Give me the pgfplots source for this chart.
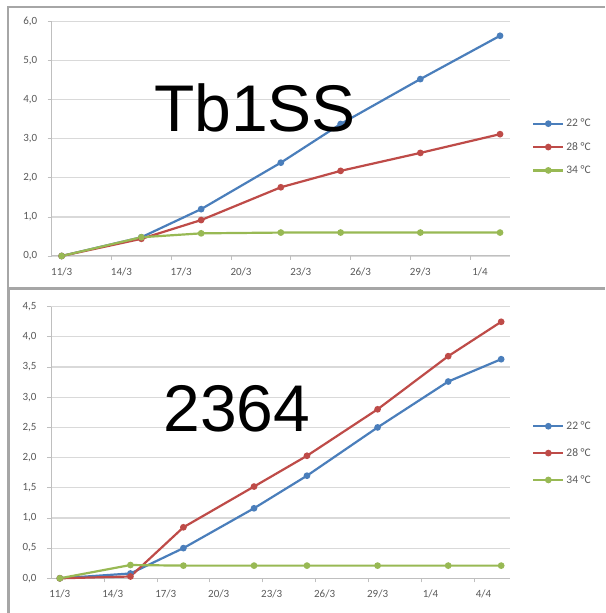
\documentclass[border=0pt]{standalone}
\usepackage{fontspec}
\setmainfont{Carlito}
\newfontfamily\arialfont{Liberation Sans}
\usepackage{pgfplots}
\pgfplotsset{compat=1.18}

\definecolor{xblue}{HTML}{4A7EBB}
\definecolor{xred}{HTML}{BE4B48}
\definecolor{xgreen}{HTML}{98B954}
\definecolor{ticktxt}{HTML}{595959}
\definecolor{gridc}{HTML}{D9D9D9}
\definecolor{axc}{HTML}{BFBFBF}
\definecolor{framec}{HTML}{A6A6A6}

\pgfplotsset{
  excel/.style={
    scale only axis,
    axis x line*=bottom, axis y line*=left,
    axis line style={axc, line width=1pt, -},
    ymajorgrids, grid style={gridc, line width=1.2pt},
    tick align=outside, major tick length=4pt,
    tick style={axc, line width=0.8pt},
    ticklabel style={font=\fontsize{11}{13}\selectfont, text=ticktxt},
    /pgf/number format/assume math mode=true,
    yticklabel style={/pgf/number format/fixed, /pgf/number format/fixed zerofill,
      /pgf/number format/precision=1, /pgf/number format/use comma, xshift=-7pt},
    xticklabels={},
    extra x tick style={major tick length=0pt, tick style={draw=none},
      xticklabel style={yshift=-8pt}},
    legend style={draw=none, fill=none, inner sep=0pt, anchor=west,
      font=\fontsize{11.5}{13}\selectfont, text=ticktxt},
    legend cell align=left,
    legend image code/.code={\draw[mark repeat=2,mark phase=2]
      plot coordinates {(0pt,0pt)(15pt,0pt)(30pt,0pt)};},
    every axis plot/.append style={line width=2.2pt, mark=*, mark size=2.2pt},
    clip=false,
  }
}

\begin{document}
\begin{tikzpicture}
\path[use as bounding box] (0pt,0pt) rectangle (605pt,613pt);

% frames of the two chart areas
\draw[framec, line width=1.8pt] (8pt,326pt) -- (8pt,606pt) -- (605pt,606pt);
\draw[framec, line width=3pt] (8pt,0pt) -- (8pt,324pt) -- (605pt,324pt);

% top chart
\begin{axis}[excel,
  at={(51.7pt,357pt)}, anchor=south west,
  width=458.3pt, height=234.3pt,
  xmin=-0.5, xmax=22.5, ymin=0, ymax=6,
  ytick={0,1,...,6},
  xtick={2.5,5.5,...,20.5},
  extra x ticks={0,3,...,21},
  extra x tick labels={11/3,14/3,17/3,20/3,23/3,26/3,29/3,1/4},
  legend style={at={(1.048,0.465)}, row sep=10pt},
]
\addplot[xblue, mark options={fill=xblue}] coordinates {
  (0,0)(4,0.48)(7,1.20)(11,2.39)(14,3.38)(18,4.53)(22,5.64)};
\addplot[xred, mark options={fill=xred}] coordinates {
  (0,0)(4,0.44)(7,0.92)(11,1.76)(14,2.18)(18,2.64)(22,3.12)};
\addplot[xgreen, mark options={fill=xgreen}] coordinates {
  (0,0)(4,0.48)(7,0.58)(11,0.60)(14,0.60)(18,0.60)(22,0.60)};
\legend{22 °C, 28 °C, 34 °C}
\end{axis}
\node[font=\arialfont\fontsize{66}{70}\selectfont, inner sep=0pt] at (255pt,505pt) {Tb1SS};

% bottom chart
\begin{axis}[excel,
  at={(51pt,34.7pt)}, anchor=south west,
  width=459pt, height=271.6pt,
  xmin=-0.5, xmax=25.5, ymin=0, ymax=4.5,
  ytick={0,0.5,...,4.5},
  xtick={2.5,5.5,...,23.5},
  extra x ticks={0,3,...,24},
  extra x tick labels={11/3,14/3,17/3,20/3,23/3,26/3,29/3,1/4,4/4},
  legend style={at={(1.048,0.461)}, row sep=13.5pt},
]
\addplot[xblue, mark options={fill=xblue}] coordinates {
  (0,0)(4,0.08)(7,0.50)(11,1.16)(14,1.70)(18,2.50)(22,3.26)(25,3.63)};
\addplot[xred, mark options={fill=xred}] coordinates {
  (0,0)(4,0.03)(7,0.845)(11,1.52)(14,2.03)(18,2.80)(22,3.68)(25,4.25)};
\addplot[xgreen, mark options={fill=xgreen}] coordinates {
  (0,0)(4,0.22)(7,0.21)(11,0.21)(14,0.21)(18,0.21)(22,0.21)(25,0.21)};
\legend{22 °C, 28 °C, 34 °C}
\end{axis}
\node[font=\arialfont\fontsize{66}{70}\selectfont, inner sep=0pt] at (237pt,204pt) {2364};
\end{tikzpicture}
\end{document}
